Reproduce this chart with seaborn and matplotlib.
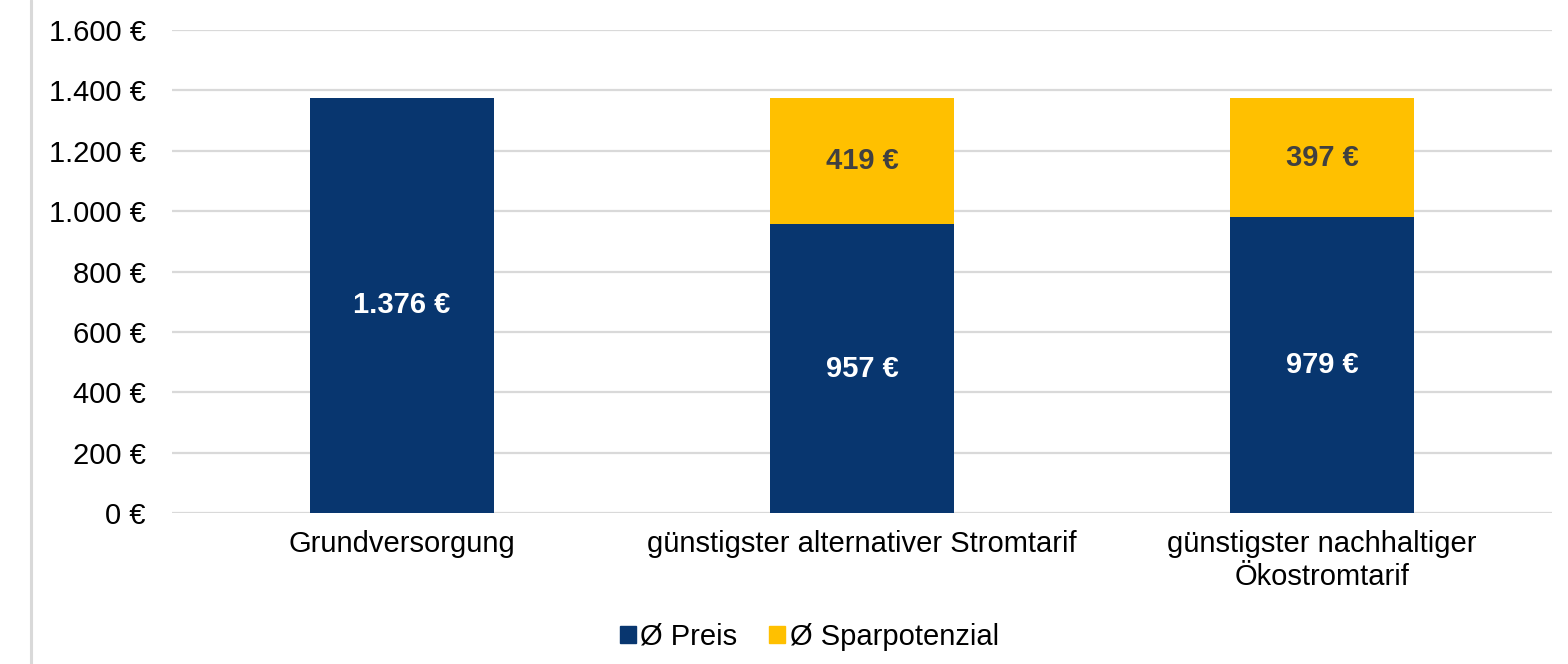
import matplotlib
matplotlib.use("Agg")
import matplotlib.pyplot as plt
import seaborn as sns
import pandas as pd
from matplotlib.patches import Patch
from matplotlib.lines import Line2D

# Daten
kategorien = ["Grundversorgung", "günstigster alternativer Stromtarif",
              "günstigster nachhaltiger\nÖkostromtarif"]
preis = [1376, 957, 979]
sparpotenzial = [0, 419, 397]
y_ticks = [0, 200, 400, 600, 800, 1000, 1200, 1400, 1600]

navy = "#08366F"
gelb = "#FFC000"
grau = "#D9D9D9"

sns.set_theme(style="white")
plt.rcParams["font.family"] = ["Liberation Sans", "DejaVu Sans"]
plt.rcParams["text.color"] = "black"

df = pd.DataFrame({"kategorie": kategorien, "preis": preis,
                   "spar": sparpotenzial})
df["gesamt"] = df["preis"] + df["spar"]

fig = plt.figure(figsize=(15.68, 6.64), dpi=100)
ax = fig.add_axes([0.1097, 0.2274, 0.8801, 0.7274])

# gestapelt: erst Gesamt (gelb), dann Preis (blau) darüber
sns.barplot(data=df, x="kategorie", y="gesamt", color=gelb, saturation=1,
            width=0.4, ax=ax, zorder=3, linewidth=0)
sns.barplot(data=df, x="kategorie", y="preis", color=navy, saturation=1,
            width=0.4, ax=ax, zorder=4, linewidth=0)

ax.set_xlim(-0.5, 2.5)
ax.set_ylim(0, 1600)
ax.set_yticks(y_ticks)
ax.set_yticklabels([f"{v:,}".replace(",", ".") + " €" for v in y_ticks])
ax.yaxis.grid(True, color=grau, linewidth=1.6, zorder=0)
ax.set_axisbelow(True)
ax.set_xlabel("")
ax.set_ylabel("")
for s in ax.spines.values():
    s.set_visible(False)
ax.tick_params(axis="y", length=0, pad=19, labelsize=21, colors="black")
ax.tick_params(axis="x", length=0, pad=12, labelsize=21, colors="black")
for t in ax.get_xticklabels():
    t.set_linespacing(1.25)

# Beschriftungen
for i, (p, sp) in enumerate(zip(preis, sparpotenzial)):
    ax.text(i, p / 2, f"{p:,}".replace(",", ".") + " €", ha="center",
            va="center", color="white", fontsize=21, fontweight="bold", zorder=5)
    if sp > 0:
        ax.text(i, p + sp / 2, f"{sp} €", ha="center", va="center",
                color="#404040", fontsize=21, fontweight="bold", zorder=5)

# senkrechte Linie links
fig.add_artist(Line2D([31 / 1568, 31 / 1568], [0, 1], color=grau,
                      linewidth=2.2, transform=fig.transFigure))

handles = [Patch(color=navy, label="Ø Preis"),
           Patch(color=gelb, label="Ø Sparpotenzial")]
fig.legend(handles=handles, loc="center", bbox_to_anchor=(0.516, 0.041),
           ncol=2, frameon=False, fontsize=21, handlelength=0.55,
           handleheight=0.55, handletextpad=0.15, columnspacing=1.1,
           labelcolor="black")

fig.savefig("out.png", dpi=100)
